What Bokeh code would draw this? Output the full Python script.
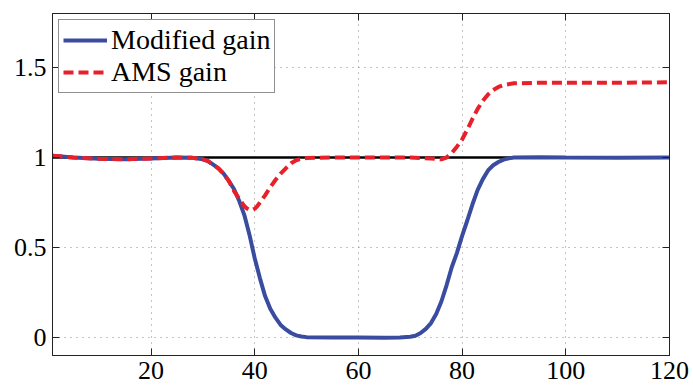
from bokeh.plotting import figure
from bokeh.models import LinearAxis, FixedTicker, CustomJSTickFormatter, Range1d
from bokeh.embed import file_html
from bokeh.resources import INLINE

# ---- data ----
MOD_X = [1, 5, 10, 15, 20, 25, 28, 30, 31, 32, 33, 34, 35, 36, 37, 38, 39, 40, 41, 42, 43, 44,
         45, 46, 47, 48, 49, 50, 55, 60, 65, 68, 70, 71, 72, 73, 74, 75, 76, 77, 78, 79, 80,
         81, 82, 83, 84, 85, 86, 87, 88, 89, 90, 95, 100, 110, 120]
MOD_Y = [1.01, 1.0, 0.993, 0.99, 0.995, 1.0, 0.998, 0.99, 0.98, 0.96, 0.94, 0.91, 0.87, 0.825,
         0.76, 0.68, 0.57, 0.44, 0.33, 0.23, 0.16, 0.11, 0.07, 0.045, 0.025, 0.012, 0.006,
         0.002, 0.0, 0.0, -0.002, 0.0, 0.004, 0.01, 0.025, 0.048, 0.08, 0.13, 0.2, 0.29, 0.39,
         0.47, 0.565, 0.65, 0.74, 0.82, 0.88, 0.928, 0.957, 0.975, 0.988, 0.995, 1.0, 1.002,
         1.0, 0.998, 1.0]

AMS_X = [1, 5, 10, 15, 20, 25, 28, 30, 31, 32, 33, 34, 35, 36, 37, 38, 38.5, 39, 39.5, 40,
         40.5, 41, 42, 43, 44, 45, 46, 47, 48, 49, 50, 55, 60, 65, 70, 74, 76, 77, 78, 79, 80,
         81, 82, 83, 84, 85, 86, 87, 88, 90, 95, 100, 110, 120]
AMS_Y = [1.01, 1.0, 0.993, 0.99, 0.995, 1.0, 0.998, 0.99, 0.98, 0.96, 0.94, 0.91, 0.87, 0.815,
         0.77, 0.73, 0.717, 0.709, 0.708, 0.715, 0.73, 0.75, 0.79, 0.835, 0.875, 0.91, 0.94,
         0.968, 0.985, 0.993, 0.997, 1.0, 1.0, 1.0, 1.0, 0.995, 0.99, 1.0, 1.025, 1.06, 1.10,
         1.155, 1.215, 1.27, 1.315, 1.35, 1.375, 1.392, 1.403, 1.412, 1.415, 1.415, 1.415,
         1.418]

REF_X = [1, 120]
REF_Y = [1, 1]

X_TICKS = [20, 40, 60, 80, 100, 120]
Y_TICKS = [0, 0.5, 1, 1.5]
SERIES_LABELS = ["Modified gain", "AMS gain"]

FONT = "Liberation Serif"

p = figure(width=693, height=387, x_range=Range1d(1, 120), y_range=Range1d(-0.1, 1.8),
           output_backend="svg", toolbar_location=None,
           min_border_left=52, min_border_right=24, min_border_top=13, min_border_bottom=32)
p.background_fill_color = "white"
p.border_fill_color = "white"
p.outline_line_color = "#222222"

fmt = CustomJSTickFormatter(code="return tick.toString();")
blank = CustomJSTickFormatter(code="return '';")

for ax, ticks in ((p.xaxis[0], X_TICKS), (p.yaxis[0], Y_TICKS)):
    ax.ticker = FixedTicker(ticks=ticks)
    ax.formatter = fmt
    ax.major_label_text_font = FONT
    ax.major_label_text_font_size = "26px"
    ax.major_label_text_color = "black"
    ax.major_tick_in = 7
    ax.major_tick_out = 0
    ax.minor_tick_in = 0
    ax.minor_tick_out = 0
    ax.axis_line_color = "#222222"
    ax.major_tick_line_color = "#222222"
p.yaxis[0].major_label_standoff = 6
p.xaxis[0].major_label_standoff = 6

for ticks, side in ((X_TICKS, "above"), (Y_TICKS, "right")):
    a = LinearAxis(ticker=FixedTicker(ticks=ticks), formatter=blank,
                   major_label_text_font_size="0px", major_label_standoff=0,
                   major_tick_in=7, major_tick_out=0, minor_tick_in=0, minor_tick_out=0,
                   axis_line_color="#222222", major_tick_line_color="#222222")
    p.add_layout(a, side)

p.xgrid.ticker = FixedTicker(ticks=X_TICKS)
p.ygrid.ticker = FixedTicker(ticks=Y_TICKS)
for g in (p.xgrid[0], p.ygrid[0]):
    g.grid_line_color = "#8a8a8a"
    g.grid_line_dash = "1 5"
    g.grid_line_width = 1

p.line(REF_X, REF_Y, line_color="black", line_width=2.5)
p.line(MOD_X, MOD_Y, line_color="#3a4ca0", line_width=4, legend_label=SERIES_LABELS[0])
p.line(AMS_X, AMS_Y, line_color="#e8202a", line_width=4, line_dash="10 5",
       legend_label=SERIES_LABELS[1])

lg = p.legend[0]
lg.location = "top_left"
lg.margin = 6
lg.padding = 4
lg.spacing = 0
lg.glyph_width = 44
lg.label_standoff = 4
lg.label_text_font = FONT
lg.label_text_font_size = "28px"
lg.label_text_color = "black"
lg.label_height = 28
lg.border_line_color = "#222222"
lg.border_line_width = 1
lg.background_fill_alpha = 1

open("out.html", "w").write(file_html(p, INLINE))
